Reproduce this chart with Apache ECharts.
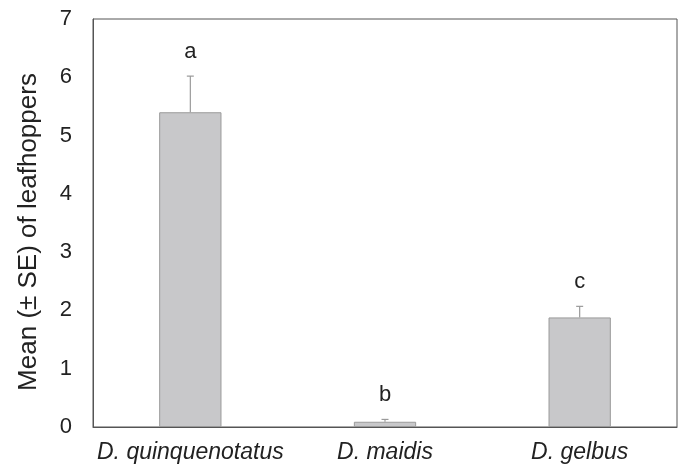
<!DOCTYPE html>
<html>
<head>
<meta charset="utf-8">
<script src="https://cdn.jsdelivr.net/npm/echarts@6/dist/echarts.min.js"></script>
<style>html,body{margin:0;padding:0;background:#fff}#c{width:681px;height:467px}</style>
</head>
<body>
<div id="c"></div>
<script>
const categories = ["D. quinquenotatus", "D. maidis", "D. gelbus"];
const means = [5.40, 0.09, 1.88];
const se = [0.62, 0.04, 0.19];
const letters = ["a", "b", "c"];
const yTicks = [0, 1, 2, 3, 4, 5, 6, 7];
const yTitle = "Mean (± SE) of leafhoppers";

const chart = echarts.init(document.getElementById('c'));
const font = '"Liberation Sans", Arial, sans-serif';
chart.setOption({
  animation: false,
  grid: { left: 93, right: 4, top: 19, bottom: 40, show: true, borderColor: '#555', borderWidth: 1, backgroundColor: 'transparent' },
  graphic: [{
    type: 'text', x: 29, y: 232, rotation: Math.PI / 2,
    style: { text: yTitle, font: '26px ' + font, fill: '#222', textAlign: 'center', textVerticalAlign: 'middle' }
  }],
  xAxis: {
    type: 'category', data: categories,
    axisLine: { lineStyle: { color: '#555', width: 1 } },
    axisTick: { show: false },
    axisLabel: { interval: 0, fontFamily: font, fontSize: 23, fontStyle: 'italic', color: '#222', margin: 14 }
  },
  yAxis: {
    type: 'value', min: yTicks[0], max: yTicks[yTicks.length - 1], interval: 1,
    axisLine: { show: true, lineStyle: { color: '#555', width: 1 } },
    axisTick: { show: false },
    splitLine: { show: false },
    axisLabel: { fontFamily: font, fontSize: 22, color: '#222', margin: 21 }
  },
  series: [
    {
      type: 'bar', data: means, barWidth: '32%',
      itemStyle: { color: '#c8c8ca', borderColor: '#9a9a9a', borderWidth: 1 }
    },
    {
      type: 'custom',
      data: means.map((m, i) => [i, m, m + se[i], letters[i]]),
      renderItem: function (params, api) {
        const x = api.coord([api.value(0), api.value(1)])[0];
        const y0 = api.coord([api.value(0), api.value(1)])[1];
        const y1 = api.coord([api.value(0), api.value(2)])[1];
        const style = { stroke: '#9a9a9a', lineWidth: 1.2 };
        return {
          type: 'group',
          children: [
            { type: 'line', shape: { x1: x, y1: y0, x2: x, y2: y1 }, style: style },
            { type: 'line', shape: { x1: x - 3.5, y1: y1, x2: x + 3.5, y2: y1 }, style: style },
            { type: 'text', style: { text: api.value(3), x: x, y: y1 - 24, textAlign: 'center', textVerticalAlign: 'middle', font: '22px ' + font, fill: '#222' } }
          ]
        };
      },
      z: 5
    }
  ]
});
</script>
</body>
</html>
